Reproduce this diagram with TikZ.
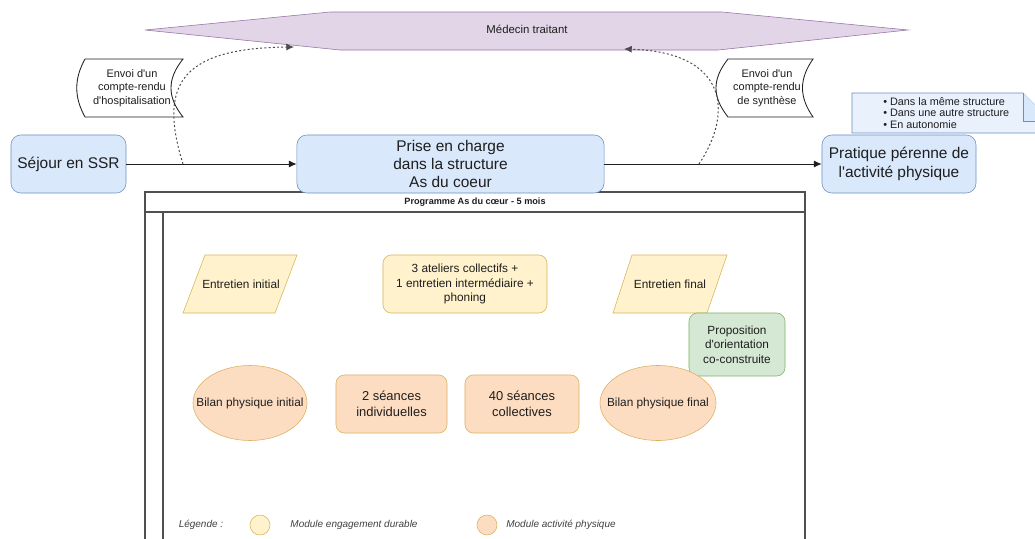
\documentclass[tikz,border=0pt]{standalone}
\usepackage{fontspec}
\setmainfont{Liberation Sans}[Ligatures=TeXOff]
\usepackage{xcolor}
\usepackage{tikz}
\usetikzlibrary{shapes.geometric,arrows.meta}

\definecolor{bleuFond}{HTML}{DAE8FC}
\definecolor{bleuTrait}{HTML}{6C8EBF}
\definecolor{jauneFond}{HTML}{FFF2CC}
\definecolor{jauneTrait}{HTML}{D6B656}
\definecolor{orangeFond}{HTML}{FCDDC2}
\definecolor{orangeTrait}{HTML}{DDB060}
\definecolor{vertFond}{HTML}{D5E8D4}
\definecolor{vertTrait}{HTML}{82B366}
\definecolor{violetFond}{HTML}{E1D5E7}
\definecolor{violetTrait}{HTML}{9673A6}
\definecolor{encre}{HTML}{1E1E1E}
\definecolor{cadreTrait}{HTML}{505050}

\tikzset{
  boite/.style={draw=bleuTrait, fill=bleuFond, rounded corners=7pt, minimum height=1.45cm,
    inner sep=0pt, align=center, text=encre, font=\fontsize{11}{13}\selectfont},
  moduleJaune/.style={draw=jauneTrait, fill=jauneFond, rounded corners=6pt, minimum height=1.45cm,
    inner sep=0pt, align=center, text=encre, font=\fontsize{8.4}{10}\selectfont},
  moduleOrange/.style={draw=orangeTrait, fill=orangeFond, rounded corners=6pt, minimum height=1.45cm,
    inner sep=0pt, align=center, text=encre, font=\fontsize{9.2}{11.5}\selectfont},
  moduleVert/.style={draw=vertTrait, fill=vertFond, rounded corners=6pt, minimum width=2.4cm,
    minimum height=1.575cm, inner sep=0pt, align=center, text=encre, font=\fontsize{8.4}{10.3}\selectfont},
  bilan/.style={ellipse, draw=orangeTrait, fill=orangeFond, minimum width=2.85cm, minimum height=1.875cm,
    inner xsep=-22pt, inner ysep=0pt, text=encre, font=\fontsize{8.4}{10}\selectfont},
  para/.style={draw=jauneTrait, fill=jauneFond},
  ruban/.style={draw=encre, line width=0.6pt, fill=white},
  texte/.style={inner sep=0pt, align=center, text=encre},
  fleche/.style={draw=encre, line width=0.7pt},
  pointille/.style={draw=encre!80, line width=0.7pt, dash pattern=on 1.4pt off 1.6pt},
  cadre/.style={draw=cadreTrait, line width=0.9pt},
  legende/.style={inner sep=0pt, text=encre!85, font=\fontsize{7.1}{8}\selectfont\itshape},
  pastille/.style={circle, minimum size=0.5cm, inner sep=0pt},
}

\begin{document}
\begin{tikzpicture}[x=0.025cm, y=-0.025cm, >={Latex[length=5.5pt,width=5pt]}]
\useasboundingbox (0,0) rectangle (1035,539);
\clip (0,0) rectangle (1035,539);

% medecin traitant
\draw[draw=violetTrait, fill=violetFond] (145,30) -- (330,12) -- (722,12) -- (908,30) -- (718,50) -- (340,50) -- cycle;
\node[texte, font=\fontsize{8.1}{9}\selectfont] (medecin) at (527,29) {Médecin traitant};
\coordinate (medecinG) at (294,47);
\coordinate (medecinD) at (624,49);

% cadre du programme
\draw[cadre] (145,192) rectangle (805,560);
\draw[cadre] (145,212) -- (805,212);
\draw[cadre] (163,212) -- (163,560);
\node[texte, font=\fontsize{6.5}{7}\selectfont\bfseries] (programme) at (475,202) {Programme As du cœur - 5 mois};

% note
\draw[draw=bleuTrait, fill=bleuFond!60] (852,93) -- (1023,93) -- (1051,121) -- (1051,133) -- (852,133) -- cycle;
\draw[draw=bleuTrait, fill=bleuFond] (1023,93) -- (1023,121) -- (1051,121);
\node[texte, align=left, anchor=west, font=\fontsize{7.7}{8.3}\selectfont] (suite) at (883,113)
  {\textbullet\ Dans la même structure\\\textbullet\ Dans une autre structure\\\textbullet\ En autonomie};

% parcours
\node[boite, minimum width=2.875cm] (sejour) at (68.5,164) {Séjour en SSR};
\node[boite, minimum width=7.675cm] (prise) at (450.5,164) {Prise en charge\\dans la  structure\\As du coeur};
\node[boite, minimum width=3.85cm] (pratique) at (899,164) {Pratique pérenne de\\l'activité physique};

\draw[fleche, ->] (sejour) -- (prise);
\draw[fleche, ->] (prise) -- (pratique);

% comptes-rendus
\draw[ruban] (85,59) -- (183,59) .. controls (167,79) and (167,97) .. (183,117) -- (85,117)
  .. controls (74,97) and (74,79) .. (85,59) -- cycle;
\node[texte, font=\fontsize{7.8}{9.6}\selectfont] (crHosp) at (132,88) {Envoi d'un\\compte-rendu\\d'hospitalisation};
\draw[ruban] (728,59) -- (813,59) .. controls (799,79) and (799,97) .. (813,117) -- (728,117)
  .. controls (712,97) and (712,79) .. (728,59) -- cycle;
\node[texte, font=\fontsize{7.8}{9.6}\selectfont] (crSynth) at (767,88) {Envoi d'un\\compte-rendu\\de synthèse};

\coordinate (depHosp) at (183,164);
\coordinate (depSynth) at (699,164);
\draw[pointille, ->] (depHosp) .. controls (160,90) and (175,48) .. (medecinG);
\draw[pointille, ->] (depSynth) .. controls (735,110) and (725,52) .. (medecinD);

% modules
\draw[para] (183,313) -- (205,255) -- (297,255) -- (275,313) -- cycle;
\node[texte, font=\fontsize{8.4}{10}\selectfont] (entInit) at (241,284) {Entretien initial};
\node[moduleJaune, minimum width=4.1cm] (ateliers) at (465,284) {3 ateliers collectifs +\\1 entretien intermédiaire +\\phoning};
\draw[para] (613,313) -- (632,255) -- (727,255) -- (707,313) -- cycle;
\node[texte, font=\fontsize{8.4}{10}\selectfont] (entFinal) at (670,284) {Entretien final};
\node[moduleVert] (proposition) at (737,344.5) {Proposition\\d'orientation\\co-construite};

\node[bilan] (bilanInit) at (250,403) {Bilan physique initial};
\node[moduleOrange, minimum width=2.775cm] (seancesInd) at (391.5,404) {2 séances\\individuelles};
\node[moduleOrange, minimum width=2.85cm] (seancesCol) at (522,404) {40 séances\\collectives};
\node[bilan, minimum width=2.9cm] (bilanFinal) at (658,403) {Bilan physique final};

% legende
\node[legende] (legende) at (201,525) {Légende :};
\node[pastille, draw=jauneTrait, fill=jauneFond] (pastJaune) at (260,525) {};
\node[legende] (legJaune) at (354,525) {Module engagement durable};
\node[pastille, draw=orangeTrait, fill=orangeFond] (pastOrange) at (487,525) {};
\node[legende] (legOrange) at (561,525) {Module activité physique};
\end{tikzpicture}
\end{document}
